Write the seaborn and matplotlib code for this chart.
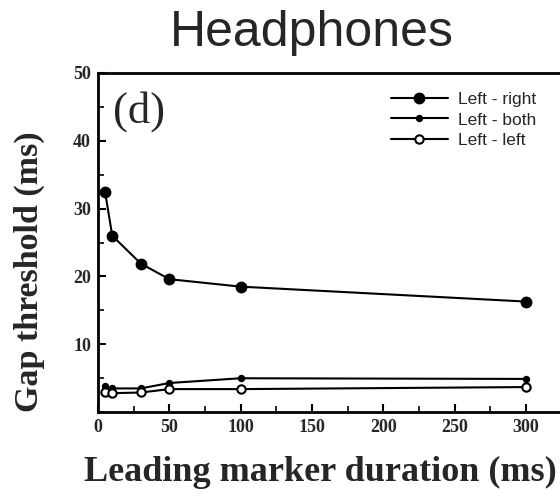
import matplotlib
matplotlib.use("Agg")
import matplotlib.pyplot as plt
import seaborn as sns
import pandas as pd
from matplotlib.ticker import MultipleLocator

sns.set_theme(style="white")
plt.rcParams["font.family"] = ["Liberation Serif", "DejaVu Serif"]

durations = [5, 10, 30, 50, 100, 300]
left_right = [32.4, 26.0, 21.9, 19.6, 18.5, 16.3]
left_both = [3.8, 3.5, 3.5, 4.3, 5.0, 4.9]
left_left = [2.9, 2.8, 2.9, 3.4, 3.4, 3.7]

series_names = ["Left - right", "Left - both", "Left - left"]

df = pd.DataFrame({
    "duration": durations * 3,
    "gap": left_right + left_both + left_left,
    "condition": [n for n in series_names for _ in durations],
})

fig = plt.figure(figsize=(5.6, 4.96), dpi=100)
ax = fig.add_axes([0.175, 0.169, 0.841, 0.684])

marker_styles = {
    "Left - right": dict(markersize=7.0, markerfacecolor="black"),
    "Left - both": dict(markersize=3.8, markerfacecolor="black"),
    "Left - left": dict(markersize=6.0, markerfacecolor="white"),
}
for name in series_names:
    st = marker_styles[name]
    sns.lineplot(data=df[df["condition"] == name], x="duration", y="gap",
                 ax=ax, color="black", marker="o",
                 markersize=st["markersize"], markerfacecolor=st["markerfacecolor"],
                 markeredgecolor="black", markeredgewidth=1.5, linewidth=1.5,
                 label=name, errorbar=None)

ax.set_xlim(0, 330)
ax.set_ylim(0, 50)
ax.xaxis.set_major_locator(MultipleLocator(50))
ax.xaxis.set_minor_locator(MultipleLocator(25))
ax.yaxis.set_minor_locator(MultipleLocator(5))
ax.set_yticks([10, 20, 30, 40, 50])
ax.tick_params(axis="both", which="both", direction="in", color="black",
               labelsize=13, pad=5)
ax.tick_params(which="major", length=6, width=1.5)
ax.tick_params(which="minor", length=4, width=1.2)
ax.tick_params(axis="x", which="both", bottom=True)
ax.tick_params(axis="y", which="both", left=True)
for lab in ax.get_xticklabels() + ax.get_yticklabels():
    lab.set_fontweight("bold")
for side in ["left", "bottom", "top"]:
    ax.spines[side].set_color("black")
    ax.spines[side].set_linewidth(2)
ax.spines["right"].set_visible(False)
ax.set_xlabel("")
ax.set_ylabel("")

fig.text(113 / 560, 1 - 91 / 496, "(d)", fontsize=32, va="top", ha="left",
         family="Liberation Serif")

ax.legend(loc="upper left", bbox_to_anchor=(382 / 560, 1 - 83 / 496),
          bbox_transform=fig.transFigure, frameon=False, borderpad=0,
          prop={"family": "Liberation Sans", "size": 12.5},
          handlelength=3.3, labelspacing=0.32, handletextpad=0.6)

fig.text(0.556, 0.933, "Headphones", ha="center", va="center",
         fontsize=36, family="Liberation Sans")
fig.text(0.572, 0.048, "Leading marker duration (ms)", ha="center", va="center",
         fontsize=26, fontweight="bold", family="Liberation Serif")
fig.text(0.052, 0.452, "Gap threshold (ms)", ha="center", va="center",
         rotation=90, fontsize=24.5, fontweight="bold", family="Liberation Serif")

fig.savefig("out.png", dpi=100)
